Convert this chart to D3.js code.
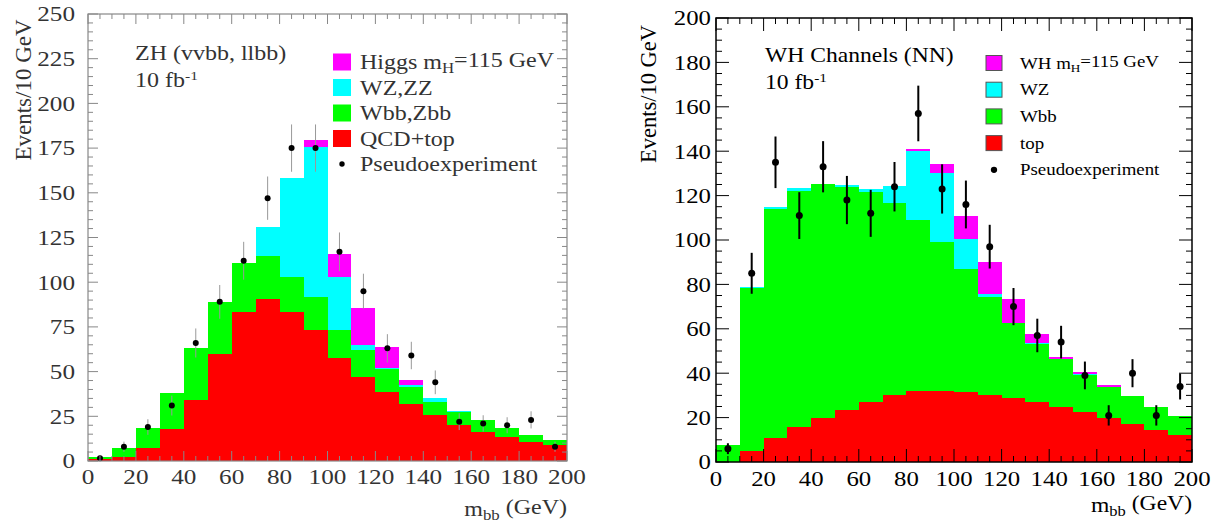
<!DOCTYPE html>
<html>
<head>
<meta charset="utf-8">
<script src="https://cdn.jsdelivr.net/npm/d3@7"></script>
<style>
  body { margin: 0; background: #fff; }
</style>
</head>
<body>
<svg id="chart" width="1225" height="527" font-family="Liberation Serif, Times New Roman, DejaVu Serif, serif"></svg>
<script>
// bin low edges (GeV), 10 GeV wide
const bins = d3.range(0, 200, 10);

// ZH panel, per-process events per bin
const zhQcdTop = [1, 2, 7.4, 17.9, 34, 59.8, 83.5, 90.4, 83.5, 73.3, 57.4, 47.1, 38.8, 31.9, 25.7, 20.1, 16.4, 13.2, 10.8, 8.9];
const zhWbbZbb = [1, 5.4, 10.9, 19.9, 29.4, 29.2, 27, 24.2, 19.5, 18.7, 15.9, 14.9, 12.7, 9.7, 7.5, 7.5, 6.5, 5.1, 3.7, 2.8];
const zhWzZz   = [0, 0, 0, 0, 0, 0, 0, 16.4, 55, 83.8, 29.7, 2.9, 0.3, 0.9, 1.8, 0.4, 0.1, 0, 0, 0];
const zhHiggs  = [0, 0, 0, 0, 0, 0, 0, 0, 0, 3.7, 13, 20.5, 12.1, 2.8, 0.5, 0, 0, 0, 0, 0];
const zhPseudo = [1.5, 8, 19, 31, 66, 89, 112, 147, 175, 175, 117, 95, 63, 59, 44, 22, 21, 20, 23, 8];

// WH panel
const whTop    = [0, 5, 10.7, 15.6, 19.8, 23.4, 27, 30, 32, 32, 31.7, 30.2, 29, 27.2, 24.9, 22.5, 20, 17.3, 14.6, 12.2];
const whWbb    = [7.6, 73.2, 103.3, 106.6, 105.4, 100.3, 94.8, 86.8, 77, 67.2, 55.1, 44, 33.5, 26.1, 21.4, 16.9, 13.7, 12.4, 10.3, 8.5];
const whWz     = [0, 0.5, 0.7, 1.1, 0.2, 0.9, 1, 7.5, 31.1, 30.8, 13.5, 1.3, 0.3, 0.2, 0.1, 0.1, 0.1, 0, 0, 0];
const whHiggs  = [0, 0, 0, 0, 0, 0, 0, 0, 0.7, 4.2, 10.7, 14.7, 10.6, 4.2, 1, 0.9, 0.7, 0.2, 0.1, 0.1];
const whPseudo = [6, 85, 135, 111, 133, 118, 112, 124, 157, 123, 116, 97, 70, 57, 54, 39, 21, 40, 21, 34];

const zhYTicks = d3.range(0, 251, 25);
const whYTicks = d3.range(0, 201, 20);
const xTicks = d3.range(0, 201, 20);

const zhLegend = ['Higgs m|H|=115 GeV', 'WZ,ZZ', 'Wbb,Zbb', 'QCD+top'];
const whLegend = ['WH m|H|=115 GeV', 'WZ', 'Wbb', 'top'];

const colors = ['#ff00ff', '#00ffff', '#00ff00', '#ff0000'];
const keys = ['sig', 'dib', 'hf', 'bkg'];

const svg = d3.select('#chart');

function subText(sel, str, subSize) {
    // "a|b|c" -> a, subscript b, c
    const parts = str.split('|');
    sel.append('tspan').text(parts[0]);
    if (parts.length > 1) {
        sel.append('tspan').attr('dy', '0.3em').attr('font-size', subSize).text(parts[1]);
        sel.append('tspan').attr('dy', '-0.3em').text(parts[2]);
    }
}

function drawPanel(p) {
    const g = svg.append('g');
    const x = d3.scaleLinear().domain([0, 200]).range([p.x0, p.x1]);
    const y = d3.scaleLinear().domain([0, p.ymax]).range([p.y0, p.y1]);
    // the original fonts are a bit wider than Times
    const put = (parent, px, py) => parent.append('text')
        .attr('transform', `translate(${px},${py}) scale(${p.sx},1)`);

    const rows = bins.map((b, i) => ({
        bin: b, bkg: p.series[3][i], hf: p.series[2][i], dib: p.series[1][i], sig: p.series[0][i]
    }));
    const stack = d3.stack().keys(['bkg', 'hf', 'dib', 'sig'])(rows);

    stack.forEach(layer => {
        const col = colors[keys.indexOf(layer.key)];
        g.append('g').selectAll('rect')
            .data(layer)
            .enter()
            .append('rect')
            .attr('x', d => x(d.data.bin))
            .attr('width', d => x(d.data.bin + 10) - x(d.data.bin))
            .attr('y', d => y(d[1]))
            .attr('height', d => y(d[0]) - y(d[1]))
            .attr('fill', col)
            .attr('shape-rendering', 'crispEdges');
    });

    // pseudo-experiment points with sqrt(N) errors
    const pts = g.append('g');
    pts.selectAll('line')
        .data(p.points)
        .enter()
        .append('line')
        .attr('x1', (d, i) => x(bins[i] + 5))
        .attr('x2', (d, i) => x(bins[i] + 5))
        .attr('y1', d => y(d + Math.sqrt(d)))
        .attr('y2', d => y(Math.max(0, d - Math.sqrt(d))))
        .attr('stroke', p.errColor)
        .attr('stroke-width', p.errWidth);
    pts.selectAll('circle')
        .data(p.points)
        .enter()
        .append('circle')
        .attr('cx', (d, i) => x(bins[i] + 5))
        .attr('cy', d => y(d))
        .attr('r', p.dotR)
        .attr('fill', '#000');

    // frame
    g.append('rect')
        .attr('x', p.x0).attr('y', p.y1)
        .attr('width', p.x1 - p.x0).attr('height', p.y0 - p.y1)
        .attr('fill', 'none')
        .attr('stroke', p.frame)
        .attr('stroke-width', p.frameW);

    // ticks, all pointing inwards
    const tk = g.append('g').attr('stroke', p.frame).attr('stroke-width', 1);
    d3.range(0, 201, 5).forEach(v => {
        const len = v % 20 === 0 ? p.major : p.minor;
        tk.append('line').attr('x1', x(v)).attr('x2', x(v)).attr('y1', p.y0).attr('y2', p.y0 - len);
        tk.append('line').attr('x1', x(v)).attr('x2', x(v)).attr('y1', p.y1).attr('y2', p.y1 + len);
    });
    d3.range(0, p.ymax + 0.1, p.yMinorStep).forEach(v => {
        const len = v % p.yStep === 0 ? p.major : p.minor;
        tk.append('line').attr('x1', p.x0).attr('x2', p.x0 + len).attr('y1', y(v)).attr('y2', y(v));
        tk.append('line').attr('x1', p.x1).attr('x2', p.x1 - len).attr('y1', y(v)).attr('y2', y(v));
    });

    // tick labels
    const lab = g.append('g').attr('fill', p.textColor).attr('font-size', p.tickSize);
    p.yTicks.forEach(v => {
        put(lab, p.x0 - p.yLabGap, y(v)).attr('dy', '0.35em').attr('text-anchor', 'end').text(v);
    });
    xTicks.forEach(v => {
        put(lab, x(v), p.xLabY).attr('text-anchor', 'middle').text(v);
    });

    // axis titles
    const ttl = g.append('g').attr('fill', p.textColor).attr('font-size', p.titleSize);
    ttl.append('text')
        .attr('transform', `translate(${p.yTitleX},${p.yTitleY}) rotate(-90)`)
        .attr('font-size', p.yTitleSize)
        .attr('text-anchor', 'middle')
        .text('Events/10 GeV');
    const xt = put(ttl, p.x1, p.xTitleY).attr('text-anchor', 'end');
    xt.append('tspan').text('m');
    xt.append('tspan').attr('dy', '0.3em').attr('font-size', p.titleSize * 0.7).text('bb');
    xt.append('tspan').attr('dy', '-0.3em').text(' (GeV)');

    // channel label
    put(ttl, p.labX, p.labY).text(p.label);
    const lumi = put(ttl, p.labX, p.labY + 27);
    lumi.append('tspan').text('10 fb');
    lumi.append('tspan').attr('dy', '-0.55em').attr('font-size', p.titleSize * 0.65).text('-1');

    // legend
    const lg = g.append('g').attr('fill', p.textColor).attr('font-size', p.legSize);
    p.legend.forEach((t, i) => {
        const cy = p.legY + i * p.legStep;
        lg.append('rect')
            .attr('x', p.legX).attr('y', cy - p.boxH / 2)
            .attr('width', p.boxW).attr('height', p.boxH)
            .attr('fill', colors[i])
            .attr('stroke', p.boxStroke)
            .attr('stroke-width', p.boxStroke === 'none' ? 0 : 1);
        const tx = put(lg, p.legTextX, cy).attr('dy', '0.35em');
        subText(tx, t, p.legSize * 0.7);
    });
    const py = p.legY + 4 * p.legStep;
    lg.append('circle').attr('cx', p.legX + p.boxW / 2).attr('cy', py).attr('r', p.dotR * 0.9).attr('fill', '#000');
    put(lg, p.legTextX, py).attr('dy', '0.35em').text('Pseudoexperiment');
}

drawPanel({
    x0: 88, x1: 567, y0: 461, y1: 14, ymax: 250,
    series: [zhHiggs, zhWzZz, zhWbbZbb, zhQcdTop], points: zhPseudo,
    errColor: '#999', errWidth: 1, dotR: 3,
    frame: '#888', frameW: 1.2, major: 10, minor: 5, yStep: 25, yMinorStep: 5,
    sx: 1.2, yTicks: zhYTicks, tickSize: 21, yLabGap: 13, xLabY: 484,
    textColor: '#333', titleSize: 20, yTitleSize: 23, yTitleX: 31, yTitleY: 90, xTitleY: 516,
    label: 'ZH (vvbb, llbb)', labX: 135, labY: 60,
    legend: zhLegend, legX: 333, legTextX: 360, legY: 62, legStep: 25.5,
    boxW: 18, boxH: 17, boxStroke: 'none', legSize: 20
});

drawPanel({
    x0: 716, x1: 1192, y0: 462, y1: 18, ymax: 200,
    series: [whHiggs, whWz, whWbb, whTop], points: whPseudo,
    errColor: '#000', errWidth: 2, dotR: 3.5,
    frame: '#000', frameW: 1.5, major: 13, minor: 6, yStep: 20, yMinorStep: 5,
    sx: 1.18, yTicks: whYTicks, tickSize: 21, yLabGap: 5, xLabY: 486,
    textColor: '#000', titleSize: 20, yTitleSize: 22.5, yTitleX: 656, yTitleY: 94, xTitleY: 512,
    label: 'WH Channels (NN)', labX: 765, labY: 62,
    legend: whLegend, legX: 986, legTextX: 1020, legY: 63, legStep: 26.7,
    boxW: 16, boxH: 15, boxStroke: '#555', legSize: 16
});
</script>
</body>
</html>
